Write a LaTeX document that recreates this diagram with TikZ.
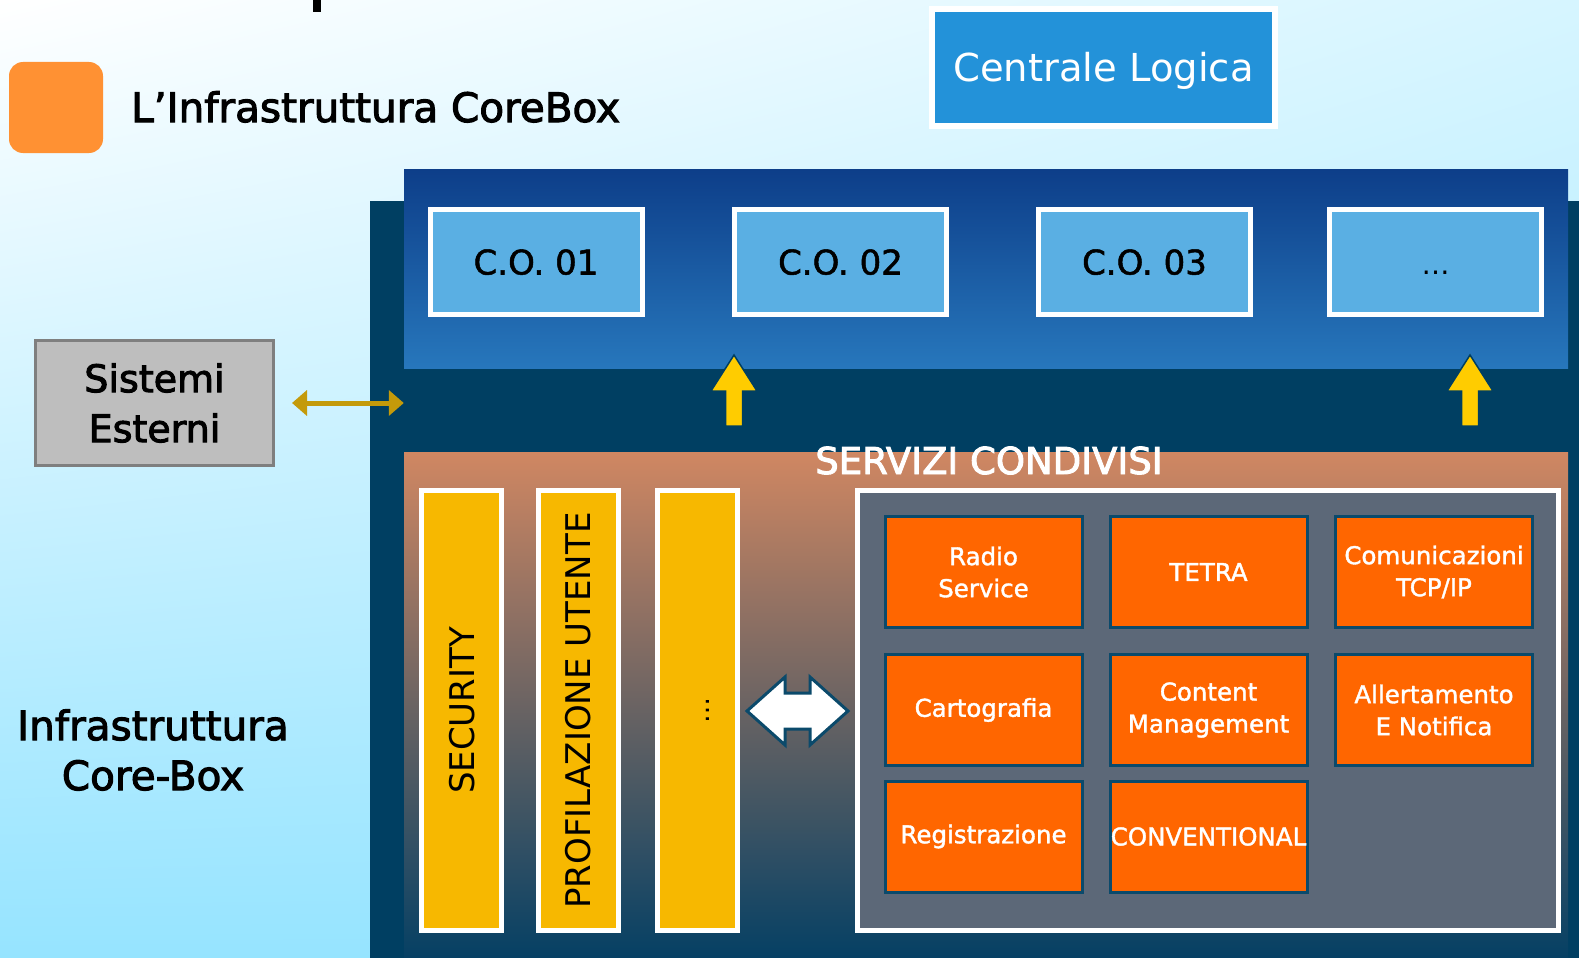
\documentclass[tikz,border=0pt]{standalone}
\usepackage{fontspec}
\setmainfont{DejaVu Sans}
\newfontfamily\heavy{DejaVu Sans}[FakeBold=2.5]
\newfontfamily\semiheavy{DejaVu Sans}[FakeBold=1.5]
\usepackage{tikz}
\usetikzlibrary{arrows.meta,shadings}
\definecolor{bgcyan}{RGB}{150,228,255}
\definecolor{bgtop}{RGB}{214,245,255}
\definecolor{logoorange}{RGB}{255,145,51}
\definecolor{centralblue}{RGB}{35,146,217}
\definecolor{navy}{RGB}{0,63,98}
\definecolor{paneltop}{RGB}{13,62,137}
\definecolor{panelbottom}{RGB}{39,119,188}
\definecolor{coblue}{RGB}{90,175,227}
\definecolor{arrowyellow}{RGB}{255,204,0}
\definecolor{salmon}{RGB}{208,135,98}
\definecolor{muddy}{RGB}{105,104,104}
\definecolor{deepblue}{RGB}{5,64,100}
\definecolor{baryellow}{RGB}{247,184,0}
\definecolor{slategray}{RGB}{92,104,120}
\definecolor{servorange}{RGB}{255,102,0}
\definecolor{servborder}{RGB}{11,74,107}
\definecolor{gold}{RGB}{196,154,10}
\definecolor{boxgray}{RGB}{190,190,190}
\definecolor{edgegray}{RGB}{127,127,127}

\tikzset{
  cobox/.style={draw=white, line width=5pt, fill=coblue, minimum width=212pt,
    minimum height=105pt, inner sep=0pt, text height=25pt, text depth=0pt,
    font=\semiheavy\fontsize{34}{40}\selectfont},
  bar/.style={draw=white, line width=5pt, fill=baryellow, minimum width=440pt,
    minimum height=80pt, inner sep=0pt, rotate=90, text height=25pt, text depth=0pt,
    font=\fontsize{34}{40}\selectfont},
  service/.style={draw=servborder, line width=3pt, fill=servorange, text=white,
    minimum width=197pt, minimum height=111pt, inner sep=0pt, align=center,
    font=\semiheavy\fontsize{24.5}{32}\selectfont},
  uparrow/.style={fill=arrowyellow, draw=navy, line width=1.5pt},
  goldlink/.style={gold, line width=5pt,
    {Triangle[length=15pt,width=25pt]}-{Triangle[length=15pt,width=25pt]}}
}

\begin{document}
\begin{tikzpicture}[x=1pt, y=-1pt]
  \useasboundingbox (0,0) rectangle (1579,958);
  % background
  \shade[upper left=white, upper right=bgtop, lower left=bgcyan, lower right=bgcyan]
    (0,0) rectangle (1579,958);
  \fill (313,0) rectangle (321,12);

  % title
  \node[fill=logoorange, rounded corners=14pt, minimum width=94pt, minimum height=91pt] (logo) at (56,107.5) {};
  \node[anchor=base west, inner sep=0pt, font=\heavy\fontsize{40.5}{48}\selectfont] (title) at (131,122) {L’Infrastruttura CoreBox};
  \node[draw=white, line width=6pt, fill=centralblue, text=white, minimum width=343pt, minimum height=117pt,
    text height=28pt, text depth=0pt, font=\fontsize{38.5}{46}\selectfont] (centrale) at (1103.5,67.5) {Centrale Logica};

  % core box
  \node[fill=navy, minimum width=1209pt, minimum height=757pt, inner sep=0pt] (corebox) at (974.5,579.5) {};
  \shade[top color=paneltop, bottom color=panelbottom] (404,169) rectangle (1568,368);
  \node[minimum width=1164pt, minimum height=199pt, inner sep=0pt] (toppanel) at (986,268.5) {};
  \node[cobox] (co1) at (536,262) {C.O. 01};
  \node[cobox] (co2) at (840.5,262) {C.O. 02};
  \node[cobox] (co3) at (1144.5,262) {C.O. 03};
  \node[cobox, font=\fontsize{28}{34}\selectfont] (co4) at (1435.5,262) {…};

  % shared services
  \shade[top color=salmon, middle color=muddy, bottom color=deepblue] (404,452) rectangle (1568,958);
  \node[text=white, anchor=base, inner sep=0pt, font=\heavy\fontsize{37}{44}\selectfont] (servizi) at (989,474) {SERVIZI CONDIVISI};

  \coordinate (up1) at (734,426);
  \coordinate (up2) at (1470,426);
  \foreach \p in {up1,up2}
    \draw[uparrow, shift={(\p)}] (-8.5,0) -- (-8.5,-35) -- (-23,-35) -- (0,-71) -- (23,-35) -- (8.5,-35) -- (8.5,0) -- cycle;

  \node[bar] (security) at (461.5,710.5) {SECURITY};
  \node[bar] (profilo) at (578,710.5) {PROFILAZIONE UTENTE};
  \node[bar, font=\fontsize{26}{30}\selectfont] (altro) at (697,710.5) {…};

  \node[draw=white, line width=5pt, fill=slategray, minimum width=701pt, minimum height=440pt] (services) at (1208,710.5) {};
  \node[service] (radio) at (983.5,572) {Radio\\Service};
  \node[service] (tetra) at (1208.5,572) {TETRA};
  \node[service] (tcpip) at (1434,572) {Comunicazioni\\TCP/IP};
  \node[service] (carto) at (983.5,710) {Cartografia};
  \node[service] (content) at (1208.5,710) {Content\\Management};
  \node[service] (allerta) at (1434,710) {Allertamento\\E Notifica};
  \node[service] (registra) at (983.5,836.5) {Registrazione};
  \node[service] (conv) at (1208.5,836.5) {CONVENTIONAL};

  \coordinate (link) at (797.5,711);
  \draw[fill=white, draw=servborder, line width=3pt, line join=miter, shift={(link)}]
    (-50.5,0) -- (-12.5,-34) -- (-12.5,-18) -- (12.5,-18) -- (12.5,-34) -- (50.5,0)
    -- (12.5,34) -- (12.5,18) -- (-12.5,18) -- (-12.5,34) -- cycle;

  % external systems
  \node[draw=edgegray, line width=3pt, fill=boxgray, minimum width=238pt, minimum height=125pt, align=center,
    font=\heavy\fontsize{38}{50}\selectfont] (sistemi) at (154.5,403) {Sistemi\\Esterni};
  \draw[goldlink, shorten <=17pt] (sistemi.east) -- (sistemi.east -| toppanel.west);

  \node[align=center, font=\heavy\fontsize{40.5}{50}\selectfont] (infra) at (153,750) {Infrastruttura\\Core-Box};
\end{tikzpicture}
\end{document}
